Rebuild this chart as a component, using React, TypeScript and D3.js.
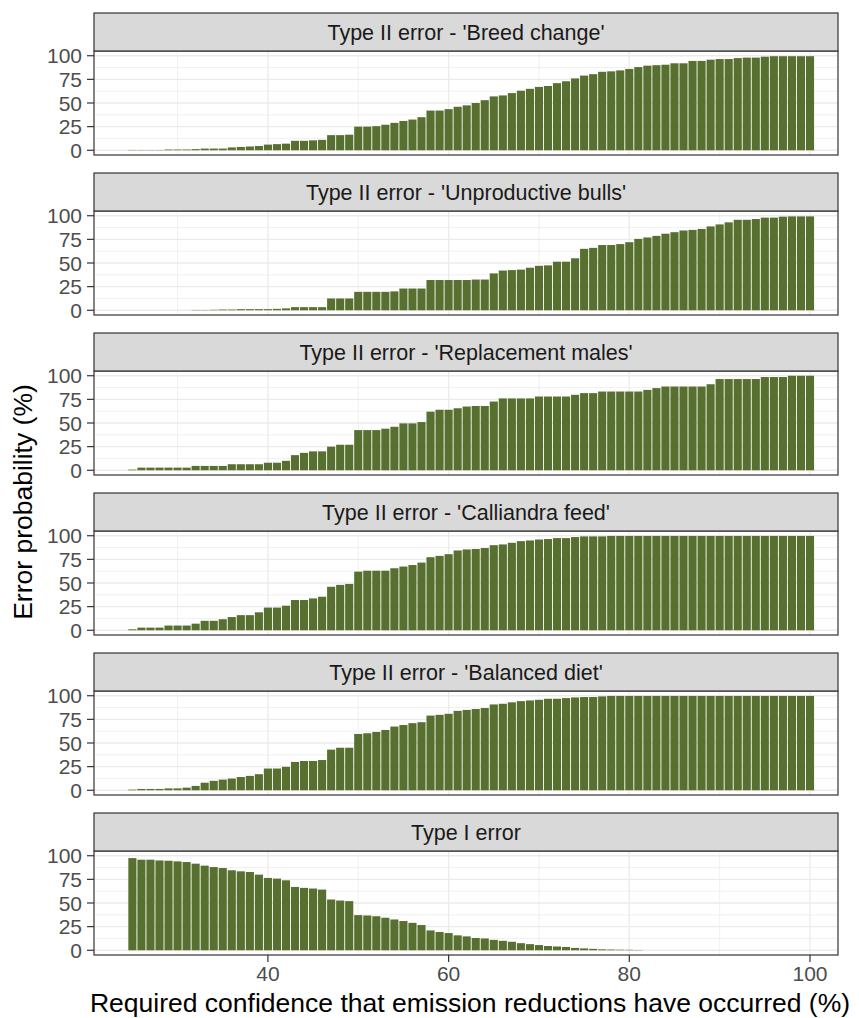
import React from "react";
import * as d3 from "d3";

const xStart = 25;
const breedChange = [
  0.3,0.3,0.3,0.3,0.8,0.8,0.8,1.2,1.8,1.8,
  1.8,3,3.5,4,4.5,6,6.5,7,10,10,
  10.5,11,16,16,16.5,25,25,25.5,27,29,
  31,32.5,35,42,42,43.5,46,47.5,50,53,
  57,58,60.5,63,65,67,68,71,73,76,
  79,80.5,83,83.5,84.5,86,88,89.5,90,90.5,
  92,92,94.5,94.5,95.8,96.5,96.5,97.5,98,98,
  99,99.5,99.5,99.5,99.5,99.5,
];
const unproductiveBulls = [
  0,0,0,0,0,0,0,0.3,0.3,0.5,
  0.8,0.8,1.2,1.2,1.2,1.2,1.5,2,3.3,3.3,
  3.3,3.3,12.5,12.5,12.5,19.5,19.5,19.5,19.5,20,
  23,23,23,32,32,32,32,32,32.5,32.5,
  39,42,42.5,43,45,47,47.5,51.4,51.4,55,
  65,66,69,69,70,72,75.5,77,78.7,81,
  82.6,84.4,85,86,88.7,90.8,93,95.7,95.7,96.5,
  98,98,99,99.3,99.3,99.3,
];
const replacementMales = [
  0.7,2.8,2.8,2.8,2.8,2.8,2.8,4.6,4.6,4.6,
  4.6,6.4,6.4,6.4,6.4,8,8,10,16,18.4,
  20,20,25,27,27,42.5,42.5,42.5,44,46,
  49.6,49.6,51,62,64,64,65.6,67.4,68,68,
  72.7,76,76,76,76,78,78,78,78,79.8,
  81.6,81.6,83.3,83.3,83.3,83.3,83.3,85,86.9,88.6,
  88.6,88.6,88.6,88.6,91,96.5,96.5,96.5,96.5,96.5,
  98.6,98.6,98.6,100,100,100,
];
const calliandraFeed = [
  1,2.8,2.8,2.8,5,5,5,7,10,10,
  11.7,14,16,16,19,24,24,26,32,32,
  33.7,35.5,46,48,49,62,63,63,63,65.6,
  67.4,69,71.6,77.3,78.7,80.5,84.4,85.5,86,87,
  90,90.8,92.5,94.3,95,96,96.5,97.5,97.5,98.6,
  99.3,99.3,99.3,99.8,99.8,99.8,99.8,99.8,99.8,99.8,
  99.8,99.8,99.8,99.8,99.8,99.8,99.8,99.8,99.8,99.8,
  99.8,99.8,99.8,99.8,99.8,99.8,
];
const balancedDiet = [
  0.7,1.4,1.4,1.4,2,2,2.8,4.6,8,10,
  11.3,12.4,14,15.2,17,23,23,24.8,30,31,
  31,32,43,45,45,59.6,60.3,61.7,63.8,67.4,
  69,71,72,79,79.8,80.9,84,85,86,87,
  90.8,91.5,93,94.3,95,95.7,96.8,96.8,97.5,98.2,
  98.6,98.6,99.3,99.8,99.8,99.8,99.8,99.8,99.8,99.8,
  99.8,99.8,99.8,99.8,99.8,99.8,99.8,99.8,99.8,99.8,
  99.8,99.8,99.8,99.8,99.8,99.8,
];
const typeOne = [
  97.5,95.8,95.8,95,94.7,94,93.3,91.6,89.5,88,
  87,84.6,83.5,82.8,80,76.5,75.8,74,67,66,
  65.3,64.2,53.7,52.6,52,37.2,36.8,36,34.4,32.6,
  30.9,29,26.7,21,19.3,18.2,15.8,14.7,13,12.5,
  11,10,9,7.5,6.5,5.5,4.5,4,3.5,2.5,
  2,1.5,1,0.8,0.6,0.5,0.3,0,0,0,
  0,0,0,0,0,0,0,0,0,0,
  0,0,0,0,0,0,
];

const panelTitles = [
  "Type II error - 'Breed change'",
  "Type II error - 'Unproductive bulls'",
  "Type II error - 'Replacement males'",
  "Type II error - 'Calliandra feed'",
  "Type II error - 'Balanced diet'",
  "Type I error",
];
const panelSeries = [breedChange, unproductiveBulls, replacementMales, calliandraFeed, balancedDiet, typeOne];
const yTicks = [0, 25, 50, 75, 100];
const yMinor = [12.5, 37.5, 62.5, 87.5];
const xTicks = [40, 60, 80, 100];
const xMinor = [30, 50, 70, 90];
const xTitle = "Required confidence that emission reductions have occurred (%)";
const yTitle = "Error probability (%)";

const W = 859, H = 1018;
const PL = 94, PR = 838;
const STRIP_H = 38, PANEL_H = 104, PITCH = 160, TOP0 = 13;
const FONT = "'Liberation Sans', Arial, Helvetica, sans-serif";
const BAR = "#58702F";
const GRID = "#EBEBEB";
const BORDER = "#333333";

export default function App() {
  const x = d3.scaleLinear().domain([20.75, 103.1]).range([PL, PR]);
  return (
    <svg width={W} height={H} style={{ position: "absolute", left: 0, top: 0, background: "#fff" }} fontFamily={FONT}>
      <rect x={0} y={0} width={W} height={H} fill="#fff" />
      {panelSeries.map((series, i) => {
        const sTop = TOP0 + PITCH * i;
        const pTop = sTop + STRIP_H;
        const pBot = pTop + PANEL_H;
        const y = d3.scaleLinear().domain([-5, 105]).range([pBot, pTop]);
        return (
          <g key={i}>
            <rect x={PL} y={pTop} width={PR - PL} height={PANEL_H} fill="#fff" />
            {yMinor.map((v) => (
              <line key={"ym" + v} x1={PL} x2={PR} y1={y(v)} y2={y(v)} stroke={GRID} strokeWidth={0.7} />
            ))}
            {xMinor.map((v) => (
              <line key={"xm" + v} x1={x(v)} x2={x(v)} y1={pTop} y2={pBot} stroke={GRID} strokeWidth={0.7} />
            ))}
            {yTicks.map((v) => (
              <line key={"yM" + v} x1={PL} x2={PR} y1={y(v)} y2={y(v)} stroke={GRID} strokeWidth={1.3} />
            ))}
            {xTicks.map((v) => (
              <line key={"xM" + v} x1={x(v)} x2={x(v)} y1={pTop} y2={pBot} stroke={GRID} strokeWidth={1.3} />
            ))}
            {series.map((v, j) => {
              const xv = xStart + j;
              if (v <= 0) return null;
              return (
                <rect key={j} x={x(xv - 0.45)} width={x(xv + 0.45) - x(xv - 0.45)} y={y(v)} height={y(0) - y(v)} fill={BAR} />
              );
            })}
            <rect x={PL} y={pTop} width={PR - PL} height={PANEL_H} fill="none" stroke={BORDER} strokeWidth={1.2} />
            <rect x={PL} y={sTop} width={PR - PL} height={STRIP_H} fill="#D9D9D9" stroke={BORDER} strokeWidth={1.2} />
            <text x={(PL + PR) / 2} y={sTop + STRIP_H / 2} dy="0.35em" textAnchor="middle" fontSize={21.5} fill="#1A1A1A">
              {panelTitles[i]}
            </text>
            {yTicks.map((v) => (
              <g key={"yt" + v}>
                <line x1={PL - 7} x2={PL} y1={y(v)} y2={y(v)} stroke={BORDER} strokeWidth={1.2} />
                <text x={PL - 12} y={y(v)} dy="0.36em" textAnchor="end" fontSize={21} fill="#4D4D4D">
                  {v}
                </text>
              </g>
            ))}
            {i === panelSeries.length - 1 &&
              xTicks.map((v) => (
                <g key={"xt" + v}>
                  <line x1={x(v)} x2={x(v)} y1={pBot} y2={pBot + 7} stroke={BORDER} strokeWidth={1.2} />
                  <text x={x(v)} y={pBot + 9} dy="0.8em" textAnchor="middle" fontSize={21} fill="#4D4D4D">
                    {v}
                  </text>
                </g>
              ))}
          </g>
        );
      })}
      <text x={470} y={1012} textAnchor="middle" fontSize={26.5} fill="#000">
        {xTitle}
      </text>
      <text transform={`translate(32,502) rotate(-90)`} textAnchor="middle" fontSize={26.5} fill="#000">
        {yTitle}
      </text>
    </svg>
  );
}
